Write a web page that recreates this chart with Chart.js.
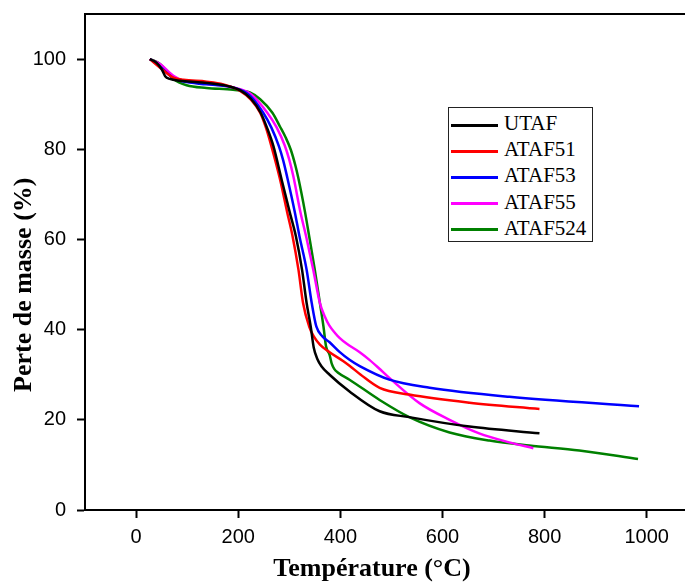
<!DOCTYPE html>
<html>
<head>
<meta charset="utf-8">
<script src="https://cdn.jsdelivr.net/npm/chart.js@4"></script>
<style>
  body { margin: 0; background: #fff; }
  #wrap { position: relative; width: 685px; height: 585px; }
  #legend {
    position: absolute; left: 448px; top: 107px; width: 145px; height: 135px;
    border: 1.5px solid #222; background: #fff;
    font-family: "Liberation Serif", "Times New Roman", serif; font-size: 21px;
    padding-top: 2px; box-sizing: border-box;
  }
  #legend div { height: 26.2px; line-height: 26.2px; white-space: nowrap; }
  #legend span.sw { display: inline-block; width: 47px; height: 3px; margin: 0 6px 0 2px; vertical-align: middle; }
</style>
</head>
<body>
<div id="wrap">
  <canvas id="myChart" width="685" height="585"></canvas>
  <div id="legend"></div>
</div>
<script>
// temperature (°C) and mass (%)
const tUTAF = [27, 40, 50, 57, 66, 86, 130, 180, 205, 225, 244, 256, 269, 285, 301, 313, 325, 334, 342, 348, 355, 363, 379, 418, 477, 535, 653, 790];
const mUTAF = [100, 99.2, 97.8, 96.2, 95.6, 95.2, 94.8, 94.0, 93.0, 91.2, 88.1, 84.9, 80.7, 73.3, 66.0, 60.7, 53.3, 45.9, 40.7, 36.0, 33.5, 31.9, 30.0, 26.3, 21.9, 20.6, 18.5, 17.0];

const tATAF51 = [27, 47, 73, 93, 138, 171, 203, 225, 243, 254, 265, 282, 296, 306, 318, 327, 339, 348, 360, 379, 406, 418, 440, 477, 535, 653, 790];
const mATAF51 = [100, 98.1, 95.9, 95.4, 95.0, 94.4, 93.0, 91.0, 88.1, 84.9, 80.7, 73.3, 66.0, 61.0, 53.3, 45.9, 40.7, 38.5, 36.7, 35.0, 33.0, 32.0, 30.0, 27.1, 25.6, 23.8, 22.4];

const tATAF53 = [27, 47, 73, 93, 138, 190, 223, 249, 265, 280, 288, 296, 311, 320, 334, 344, 353, 365, 379, 399, 418, 438, 496, 575, 731, 985];
const mATAF53 = [100, 98.3, 95.8, 95.0, 94.4, 93.7, 91.9, 88.1, 84.8, 80.6, 77.6, 73.8, 66.0, 60.7, 53.3, 45.9, 40.7, 38.5, 37.2, 35.0, 33.3, 31.9, 28.9, 27.1, 25.1, 23.0];

const tATAF55 = [27, 47, 73, 93, 140, 190, 225, 257, 275, 291, 300, 308, 322, 333, 347, 360, 370, 378, 390, 399, 412, 438, 457, 475, 496, 555, 614, 672, 731, 778];
const mATAF55 = [100, 98.9, 96.3, 95.2, 94.5, 93.7, 92.2, 88.1, 84.9, 80.9, 77.7, 74.0, 66.0, 60.7, 53.3, 45.9, 42.8, 41.0, 39.2, 38.1, 36.9, 35.0, 33.3, 31.5, 29.3, 23.7, 20.0, 17.0, 15.0, 13.7];

const tATAF524 = [27, 47, 73, 99, 138, 190, 223, 243, 267, 282, 293, 303, 312, 318, 331, 339, 350, 360, 367, 372, 379, 383, 388, 395, 418, 477, 535, 614, 692, 770, 868, 983];
const mATAF524 = [100, 98.9, 95.6, 94.2, 93.6, 93.2, 92.6, 91.1, 88.1, 85.0, 82.6, 79.9, 76.4, 73.5, 66.0, 60.7, 53.3, 45.9, 40.7, 36.3, 34.4, 32.5, 31.3, 30.5, 28.9, 24.4, 20.6, 17.2, 15.4, 14.3, 13.2, 11.3];

const names = ['UTAF', 'ATAF51', 'ATAF53', 'ATAF55', 'ATAF524'];
const colors = ['#000000', '#ff0000', '#0000ff', '#ff00ff', '#008000'];
const temps = [tUTAF, tATAF51, tATAF53, tATAF55, tATAF524];
const masses = [mUTAF, mATAF51, mATAF53, mATAF55, mATAF524];

const xTicks = [0, 200, 400, 600, 800, 1000];
const yTicks = [0, 20, 40, 60, 80, 100];

function pts(t, m) {
  return t.map(function (v, i) { return { x: v, y: m[i] }; });
}

const datasets = names.map(function (n, i) {
  return {
    label: n,
    data: pts(temps[i], masses[i]),
    borderColor: colors[i],
    backgroundColor: colors[i],
    borderWidth: 2.5,
    pointRadius: 0,
    fill: false,
    cubicInterpolationMode: 'monotone'
  };
});

const sansFont = { family: "'Liberation Sans', Arial, sans-serif", size: 20 };
const titleFont = { family: "'Liberation Serif', 'Times New Roman', serif", size: 26, weight: 'bold', lineHeight: 1.2 };
const nb = '\u00a0';

const ctx = document.getElementById('myChart');

const chart = new Chart(ctx, {
  type: 'line',
  data: { datasets: datasets },
  options: {
    responsive: false,
    animation: false,
    layout: { padding: { top: 14, right: 0, left: 0, bottom: 0 } },
    plugins: { legend: { display: false }, tooltip: { enabled: false } },
    scales: {
      x: {
        type: 'linear',
        min: -100,
        max: 1075,
        afterBuildTicks: function (s) { s.ticks = xTicks.map(function (v) { return { value: v }; }); },
        ticks: { color: '#000', font: sansFont, padding: 7, maxRotation: 0, callback: function (v) { return String(v); } },
        grid: { drawOnChartArea: false, drawTicks: true, tickLength: 8, tickColor: '#000', tickWidth: 2 },
        border: { display: true, color: '#000', width: 2 },
        // trailing spaces shift the centred title a little to the left, as in the figure
        title: { display: true, text: 'Température (°C)' + nb.repeat(4), color: '#000', font: titleFont, padding: { top: 0, bottom: 0 } },
        afterFit: function (s) { s.height = 75; s.paddingLeft = 0; s.paddingRight = 0; }
      },
      x2: {
        type: 'linear',
        position: 'top',
        min: -100,
        max: 1075,
        ticks: { display: false },
        grid: { drawOnChartArea: false, drawTicks: false },
        border: { display: true, color: '#000', width: 2 }
      },
      y: {
        min: 0,
        max: 110,
        afterBuildTicks: function (s) { s.ticks = yTicks.map(function (v) { return { value: v }; }); },
        ticks: { color: '#000', font: sansFont, padding: 11 },
        grid: { drawOnChartArea: false, drawTicks: true, tickLength: 8, tickColor: '#000', tickWidth: 2 },
        border: { display: true, color: '#000', width: 2 },
        title: { display: true, text: 'Perte de masse (%)' + nb.repeat(7), color: '#000', font: titleFont, padding: { top: 9, bottom: 0 } },
        afterFit: function (s) { s.width = 85; s.paddingTop = 0; s.paddingBottom = 0; }
      }
    }
  }
});

// legend box built from the datasets
const legend = document.getElementById('legend');
chart.data.datasets.forEach(function (d) {
  const row = document.createElement('div');
  row.innerHTML = '<span class="sw" style="background:' + d.borderColor + '"></span>' + d.label;
  legend.appendChild(row);
});
</script>
</body>
</html>
